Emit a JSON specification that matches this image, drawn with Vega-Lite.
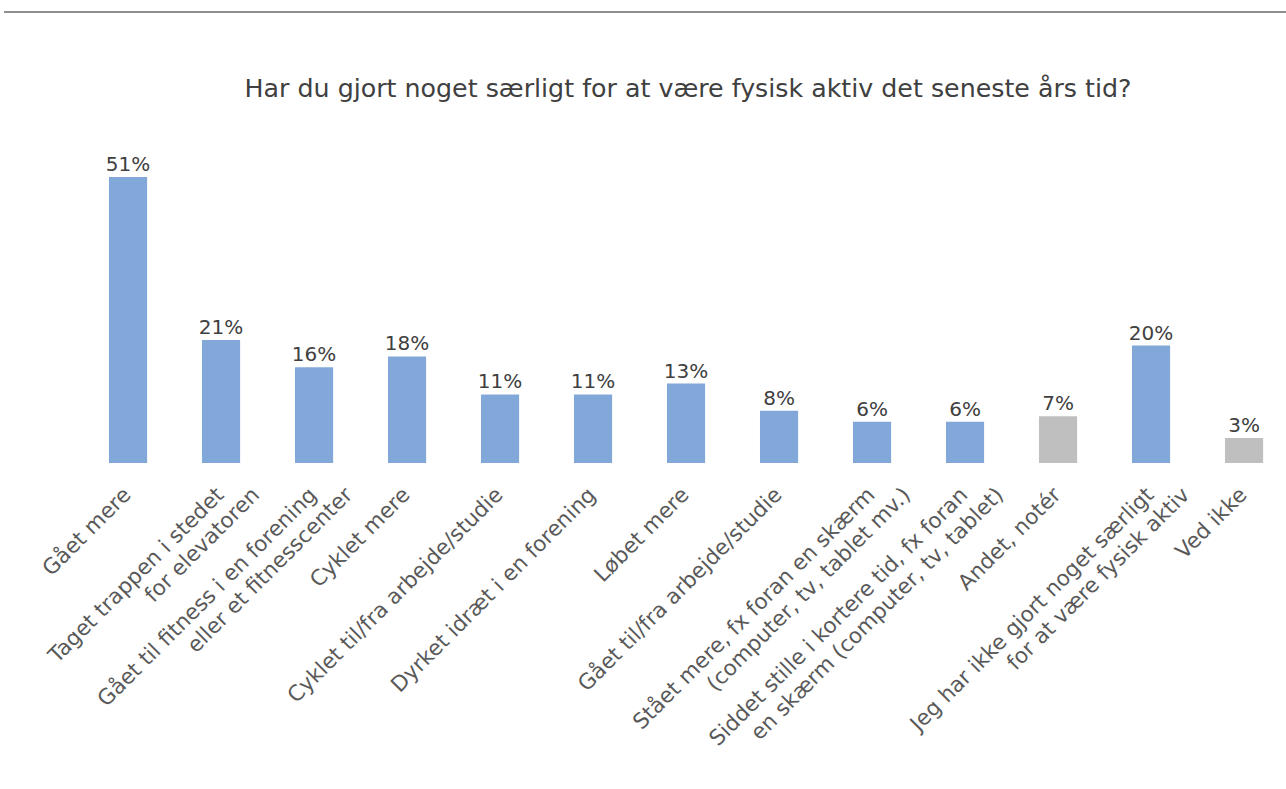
{
  "$schema": "https://vega.github.io/schema/vega-lite/v6.json",
  "autosize": {"type": "none"},
  "width": 1282,
  "height": 335,
  "padding": {"left": 4, "top": 128, "right": 0, "bottom": 326},
  "background": "white",
  "config": {"view": {"stroke": null}, "font": "DejaVu Sans"},
  "title": {
    "text": "Har du gjort noget særligt for at være fysisk aktiv det seneste års tid?",
    "anchor": "middle",
    "dx": 43,
    "dy": 121,
    "offset": 30,
    "fontSize": 25.3,
    "fontWeight": "normal",
    "color": "#404040",
    "font": "DejaVu Sans"
  },
  "data": {
    "values": [
      {"kategori": "Gået mere", "l1": "Gået mere", "l2": "", "andel": 0.51, "gruppe": "svar"},
      {"kategori": "Taget trappen", "l1": "Taget trappen i stedet", "l2": "for elevatoren", "andel": 0.21, "gruppe": "svar"},
      {"kategori": "Fitness", "l1": "Gået til fitness i en forening", "l2": "eller et fitnesscenter", "andel": 0.16, "gruppe": "svar"},
      {"kategori": "Cyklet mere", "l1": "Cyklet mere", "l2": "", "andel": 0.18, "gruppe": "svar"},
      {"kategori": "Cyklet til/fra", "l1": "Cyklet til/fra arbejde/studie", "l2": "", "andel": 0.11, "gruppe": "svar"},
      {"kategori": "Dyrket idræt", "l1": "Dyrket idræt i en forening", "l2": "", "andel": 0.11, "gruppe": "svar"},
      {"kategori": "Løbet mere", "l1": "Løbet mere", "l2": "", "andel": 0.13, "gruppe": "svar"},
      {"kategori": "Gået til/fra", "l1": "Gået til/fra arbejde/studie", "l2": "", "andel": 0.08, "gruppe": "svar"},
      {"kategori": "Stået mere", "l1": "Stået mere, fx foran en skærm", "l2": "(computer, tv, tablet mv.)", "andel": 0.06, "gruppe": "svar"},
      {"kategori": "Siddet stille", "l1": "Siddet stille i kortere tid, fx foran", "l2": "en skærm (computer, tv, tablet)", "andel": 0.06, "gruppe": "svar"},
      {"kategori": "Andet", "l1": "Andet, notér", "l2": "", "andel": 0.07, "gruppe": "øvrige"},
      {"kategori": "Ikke gjort", "l1": "Jeg har ikke gjort noget særligt", "l2": "for at være fysisk aktiv", "andel": 0.20, "gruppe": "svar"},
      {"kategori": "Ved ikke", "l1": "Ved ikke", "l2": "", "andel": 0.03, "gruppe": "øvrige"}
    ]
  },
  "layer": [
    {
      "encoding": {
        "x": {"field": "kategori", "type": "nominal", "sort": null, "axis": null, "scale": {"paddingInner": 0.59, "paddingOuter": 0.6875, "align": 0.821}}
      },
      "layer": [
        {
          "mark": {"type": "bar"},
          "encoding": {
            "y": {"field": "andel", "type": "quantitative", "axis": null, "scale": {"domain": [-0.016, 0.60], "nice": false, "zero": false}},
            "y2": {"datum": -0.016},
            "color": {"field": "gruppe", "type": "nominal", "legend": null, "scale": {"domain": ["svar", "øvrige"], "range": ["#82A8DA", "#BFBFBF"]}}
          }
        },
        {
          "mark": {"type": "text", "baseline": "alphabetic", "dy": -6, "fontSize": 20, "color": "#404040"},
          "encoding": {
            "y": {"field": "andel", "type": "quantitative"},
            "text": {"field": "andel", "type": "quantitative", "format": ".0%"}
          }
        },
        {
          "mark": {"type": "text", "angle": -45, "align": "right", "baseline": "top", "dx": -5.7, "dy": -5.7, "fontSize": 21.5, "color": "#595959"},
          "encoding": {
            "y": {"datum": -0.055, "type": "quantitative"},
            "text": {"field": "l1"}
          }
        },
        {
          "mark": {"type": "text", "angle": -45, "align": "right", "baseline": "top", "dx": 19.5, "dy": 19.5, "fontSize": 21.5, "color": "#595959"},
          "encoding": {
            "y": {"datum": -0.055, "type": "quantitative"},
            "text": {"field": "l2"}
          }
        }
      ]
    },
    {
      "mark": {"type": "rule", "color": "#8f8f8f", "strokeWidth": 1.5},
      "encoding": {
        "x": {"datum": 0, "type": "quantitative", "scale": {"domain": [0, 1]}, "axis": null},
        "x2": {"datum": 1},
        "y": {"datum": 0.813, "type": "quantitative"}
      }
    }
  ],
  "resolve": {"scale": {"x": "independent"}}
}
